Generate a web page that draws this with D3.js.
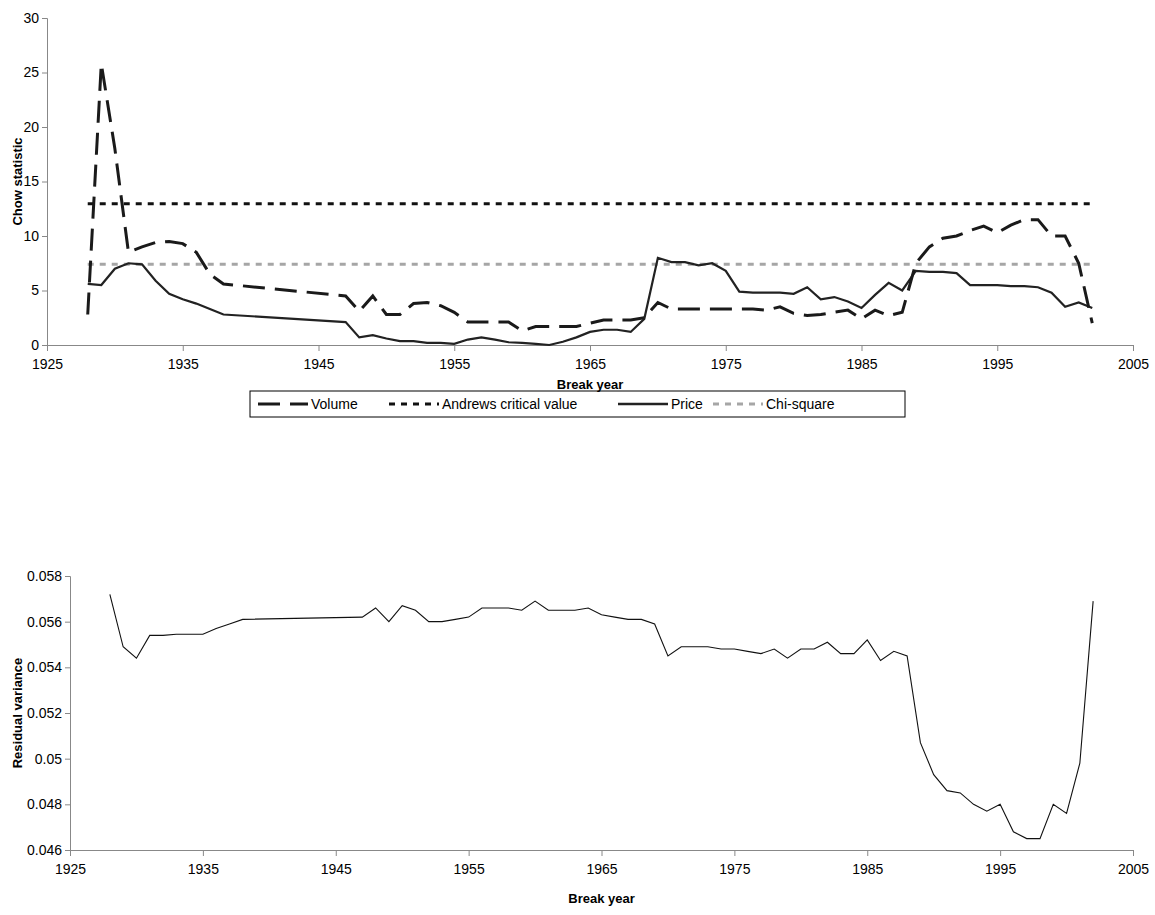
<!DOCTYPE html><html><head><meta charset="utf-8"><script src="https://cdn.jsdelivr.net/npm/d3@7"></script>
<style>body{margin:0;background:#fff}text{font-family:"Liberation Sans",Arial,sans-serif;fill:#000}</style></head><body><svg id="c" width="1155" height="915"></svg><script>
const years=[1928,1929,1930,1931,1932,1933,1934,1935,1936,1937,1938,1947,1948,1949,1950,1951,1952,1953,1954,1955,1956,1957,1958,1959,1960,1961,1962,1963,1964,1965,1966,1967,1968,1969,1970,1971,1972,1973,1974,1975,1976,1977,1978,1979,1980,1981,1982,1983,1984,1985,1986,1987,1988,1989,1990,1991,1992,1993,1994,1995,1996,1997,1998,1999,2000,2001,2002];
const volume=[2.8,25.8,18,8.5,9,9.4,9.5,9.3,8.5,6.5,5.6,4.5,3.1,4.5,2.8,2.8,3.8,3.9,3.6,3.0,2.1,2.1,2.1,2.1,1.3,1.7,1.7,1.7,1.7,2.0,2.3,2.3,2.3,2.5,3.9,3.3,3.3,3.3,3.3,3.3,3.3,3.3,3.2,3.5,2.9,2.7,2.8,3.0,3.2,2.4,3.2,2.7,3.0,7.5,9.0,9.8,10,10.5,10.9,10.3,11.0,11.5,11.5,10,10,7.5,2.0];
const price=[5.6,5.5,7,7.5,7.4,5.9,4.7,4.2,3.8,3.3,2.8,2.1,0.7,0.9,0.6,0.35,0.35,0.2,0.2,0.1,0.5,0.7,0.5,0.25,0.2,0.1,0,0.3,0.7,1.2,1.4,1.4,1.2,2.4,8,7.6,7.6,7.3,7.5,6.8,4.9,4.8,4.8,4.8,4.7,5.3,4.2,4.4,4.0,3.4,4.6,5.7,5.0,6.8,6.7,6.7,6.6,5.5,5.5,5.5,5.4,5.4,5.3,4.8,3.5,3.9,3.4];
const andrews=12.95, chiSquare=7.4;
const resid=[0.0572,0.0549,0.0544,0.0554,0.0554,0.05545,0.05545,0.05545,0.0557,0.0559,0.0561,0.0562,0.0566,0.0560,0.0567,0.0565,0.0560,0.0560,0.0561,0.0562,0.0566,0.0566,0.0566,0.0565,0.0569,0.0565,0.0565,0.0565,0.0566,0.0563,0.0562,0.0561,0.0561,0.0559,0.0545,0.0549,0.0549,0.0549,0.0548,0.0548,0.0547,0.0546,0.0548,0.0544,0.0548,0.0548,0.0551,0.0546,0.0546,0.0552,0.0543,0.0547,0.0545,0.0507,0.0493,0.0486,0.0485,0.0480,0.0477,0.0480,0.0468,0.0465,0.0465,0.0480,0.0476,0.0498,0.0569];
const xTicks=[1925,1935,1945,1955,1965,1975,1985,1995,2005];
const topYTicks=[0,5,10,15,20,25,30];
const botYTicks=[0.046,0.048,0.05,0.052,0.054,0.056,0.058];
const svg=d3.select("#c");
function axes(x,y,yt,fmt,ylab,titleY){
  const g=svg.append("g");
  g.append("g").attr("transform",`translate(0,${y.range()[0]})`).call(d3.axisBottom(x).tickValues(xTicks).tickFormat(d3.format("d")).tickSizeOuter(0).tickSize(6))
   .call(s=>{s.select(".domain").attr("stroke","#888");s.selectAll("line").attr("stroke","#888");s.selectAll("text").attr("font-size",14).attr("dy","1.05em");});
  g.append("g").attr("transform",`translate(${x.range()[0]},0)`).call(d3.axisLeft(y).tickValues(yt).tickFormat(fmt).tickSizeOuter(0).tickSize(5))
   .call(s=>{s.select(".domain").attr("stroke","#888");s.selectAll("line").attr("stroke","#888");s.selectAll("text").attr("font-size",14);});
  svg.append("text").attr("x",(x.range()[0]+x.range()[1])/2).attr("y",titleY).attr("text-anchor","middle").attr("font-weight","bold").attr("font-size",13).text("Break year");
  svg.append("text").attr("transform",`translate(22,${(y.range()[0]+y.range()[1])/2}) rotate(-90)`).attr("text-anchor","middle").attr("font-weight","bold").attr("font-size",13).text(ylab);
}
const x1=d3.scaleLinear().domain([1925,2005]).range([47,1133]);
const y1=d3.scaleLinear().domain([0,30]).range([345,18]);
axes(x1,y1,topYTicks,d3.format("d"),"Chow statistic",389);
const ln=(x,y,arr)=>d3.line().x((d,i)=>x(years[i])).y(d=>y(d))(arr);
svg.append("path").attr("d",ln(x1,y1,years.map(()=>chiSquare))).attr("fill","none").attr("stroke","#a6a6a6").attr("stroke-width",3).attr("stroke-dasharray","6,6");
svg.append("path").attr("d",ln(x1,y1,years.map(()=>andrews))).attr("fill","none").attr("stroke","#111").attr("stroke-width",3).attr("stroke-dasharray","6,6");
svg.append("path").attr("d",ln(x1,y1,price)).attr("fill","none").attr("stroke","#222").attr("stroke-width",2.2);
svg.append("path").attr("d",ln(x1,y1,volume)).attr("fill","none").attr("stroke","#1a1a1a").attr("stroke-width",3).attr("stroke-dasharray","22,10");
const lg=svg.append("g");
lg.append("rect").attr("x",250).attr("y",391).attr("width",655).attr("height",26).attr("fill","none").attr("stroke","#000");
const items=[["Volume","22,10","#1a1a1a",3,258],["Andrews critical value","6,6","#111",3,389],["Price",null,"#222",2.5,618],["Chi-square","6,6","#a6a6a6",3,713]];
items.forEach(([t,da,c,w,x0])=>{lg.append("line").attr("x1",x0).attr("x2",x0+50).attr("y1",404).attr("y2",404).attr("stroke",c).attr("stroke-width",w).attr("stroke-dasharray",da);
 lg.append("text").attr("x",x0+53).attr("y",409).attr("font-size",14).text(t);});
const x2=d3.scaleLinear().domain([1925,2005]).range([70,1133]);
const y2=d3.scaleLinear().domain([0.046,0.058]).range([850,576]);
axes(x2,y2,botYTicks,d=>String(+d.toFixed(3)),"Residual variance",903);
svg.append("path").attr("d",ln(x2,y2,resid)).attr("fill","none").attr("stroke","#111").attr("stroke-width",1.1);
</script></body></html>
